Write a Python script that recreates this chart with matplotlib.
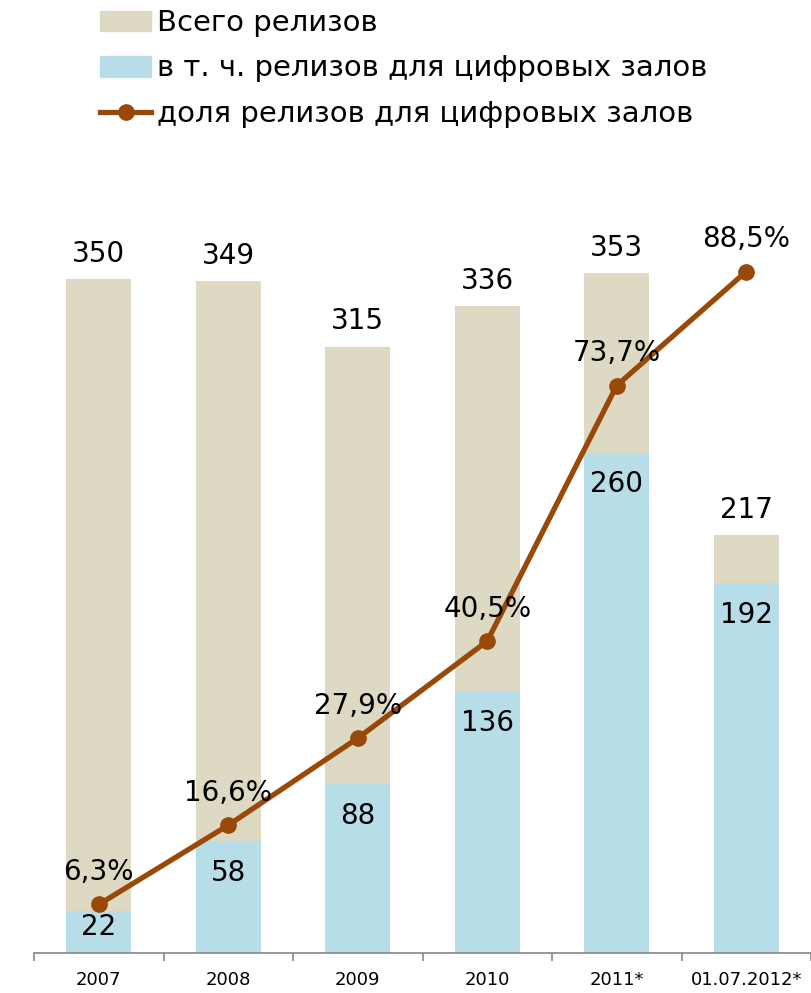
import matplotlib
matplotlib.use('Agg')
import matplotlib.pyplot as plt
from matplotlib.lines import Line2D
from matplotlib.patches import Patch

# data
years = ['2007', '2008', '2009', '2010', '2011*', '01.07.2012*']
total = [350, 349, 315, 336, 353, 217]
digital = [22, 58, 88, 136, 260, 192]
share = [6.3, 16.6, 27.9, 40.5, 73.7, 88.5]

tan = '#ddd9c3'
blue = '#b7dde8'
brown = '#984807'
PX = 72 / 100  # points per pixel at dpi 100

plt.rcParams['font.family'] = ['DejaVu Sans']

fig = plt.figure(figsize=(8.11, 9.93), dpi=100)
ax = fig.add_axes([34 / 811, 40 / 993, 777 / 811, 770 / 993])
x = list(range(len(years)))

ax.bar(x, total, width=0.5, color=tan, zorder=1)
ax.bar(x, digital, width=0.5, color=blue, zorder=2)
ax.set_ylim(0, 400)
ax.set_xlim(-0.5, 5.5)
px_per_unit = 770 / 400

for i in x:
    ax.annotate(str(total[i]), (i, total[i]), xytext=(0, 17.5 * PX),
                textcoords='offset points', ha='center', va='baseline', fontsize=20)
    h = digital[i] * px_per_unit
    off = min(40, h - 18)  # short bars: keep label inside
    ax.annotate(str(digital[i]), (i, digital[i]), xytext=(0, -off * PX),
                textcoords='offset points', ha='center', va='baseline', fontsize=20)

for s in ['top', 'left', 'right']:
    ax.spines[s].set_visible(False)
ax.spines['bottom'].set_color('#868686')
ax.spines['bottom'].set_linewidth(1.2)
ax.set_yticks([])
ax.set_xticks([i - 0.5 for i in range(len(years) + 1)])
ax.set_xticklabels([])
ax.tick_params(axis='x', length=8 * PX, color='#868686', width=1.2)
ax.set_xticks(x, minor=True)
ax.set_xticklabels(years, minor=True, family=['Liberation Sans Narrow', 'DejaVu Sans'], fontsize=13)
ax.tick_params(axis='x', which='minor', length=0, pad=13)

ax2 = ax.twinx()
ax2.plot(x, share, color=brown, lw=3.8, marker='o', ms=11, zorder=3)
ax2.set_ylim(0, 100)
ax2.set_yticks([])
for s in ax2.spines.values():
    s.set_visible(False)
for i in x:
    ax2.annotate(f'{share[i]:.1f}%'.replace('.', ','), (i, share[i]), xytext=(0, 24.5 * PX),
                 textcoords='offset points', ha='center', va='baseline', fontsize=20, zorder=5)

handles = [Patch(color=tan), Patch(color=blue),
           Line2D([], [], color=brown, lw=3.8, marker='o', ms=11)]
labels = ['Всего релизов', 'в т. ч. релизов для цифровых залов', 'доля релизов для цифровых залов']
fig.legend(handles, labels, loc='upper left', bbox_to_anchor=(100 / 811, 1 - 9 / 993),
           frameon=False, fontsize=21, borderpad=0, borderaxespad=0,
           handlelength=1.75, handletextpad=0.2, labelspacing=0.6)

fig.savefig('out.png', dpi=100)
